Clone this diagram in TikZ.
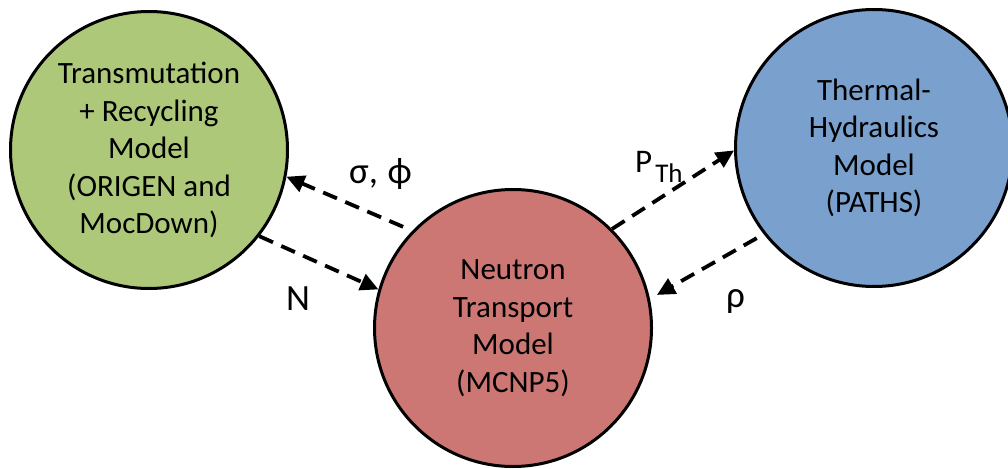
\documentclass[tikz,border=0pt]{standalone}
\usepackage{fontspec}
\setmainfont{Carlito}
\usetikzlibrary{arrows.meta}
\definecolor{modgreen}{HTML}{AEC87A}
\definecolor{modred}{HTML}{CD7774}
\definecolor{modblue}{HTML}{7AA0CE}
\begin{document}
\begin{tikzpicture}[x=1pt,y=-1pt,
  model/.style={circle,draw=black,line width=3pt,minimum size=277pt,inner sep=0pt,
    align=center,font=\fontsize{31}{37.5}\selectfont},
  flow/.style={line width=3.8pt,dash pattern=on 15pt off 9pt,
    -{Triangle[length=18pt,width=17pt]}},
  lbl/.style={inner sep=0pt,anchor=base west,font=\fontsize{37}{37}\selectfont}]
\useasboundingbox (0,0) rectangle (1008,468);
\clip (0,0) rectangle (1008,468);

% the three coupled models
\node[model,fill=modgreen] (trans) at (149,150)
  {Transmutation\\+ Recycling\\Model\\(ORIGEN and\\MocDown)};
\node[model,fill=modred] (neut) at (513,328)
  {Neutron\\Transport\\Model\\(MCNP5)};
\node[model,fill=modblue] (th) at (874,148)
  {Thermal-\\Hydraulics\\Model\\(PATHS)};

% data exchanged between the models
\draw[flow,shorten <=10pt] (neut.136) -- (trans.-11);
\draw[flow] (trans.-38) -- (neut.164);
\draw[flow] (neut.45) -- (th.181);
\draw[flow,shorten <=8pt,shorten >=8pt] (th.218) -- (neut.12);

\node[lbl] (sigphi) at (349,183) {σ, \hspace{1pt}ϕ};
\node[lbl] (nlbl) at (286,310) {N};
\node[lbl,font=\fontsize{33}{33}\selectfont] (pth) at (635,172)
  {P\hspace{3pt}\raisebox{-10pt}{\fontsize{27}{27}\selectfont Th}};
\node[lbl] (rho) at (726,307) {ρ};
\end{tikzpicture}
\end{document}
